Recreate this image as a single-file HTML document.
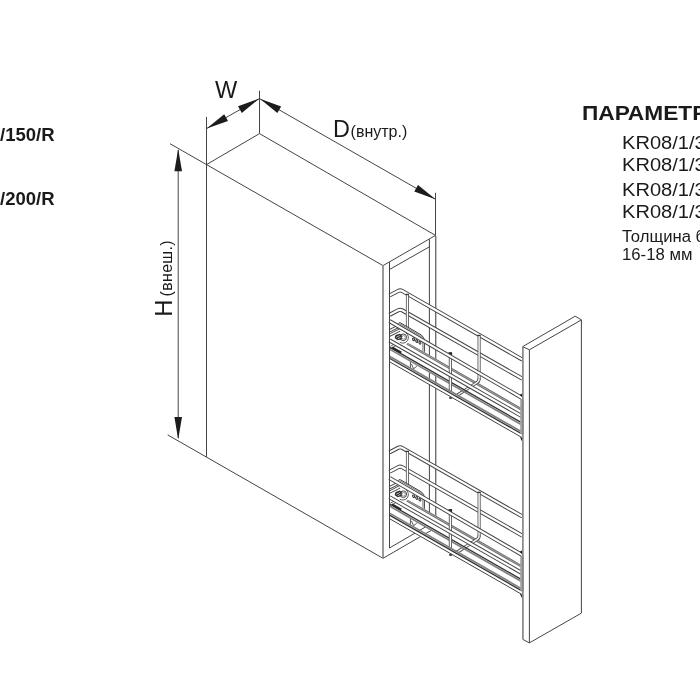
<!DOCTYPE html>
<html><head><meta charset="utf-8"><title>KR08</title>
<style>
html,body{margin:0;padding:0;background:#fff;}
body{width:700px;height:700px;overflow:hidden;position:relative;font-family:"Liberation Sans",sans-serif;color:#1a1a1a;}
svg{position:absolute;left:0;top:0;}
.t{position:absolute;white-space:nowrap;line-height:1;transform-origin:0 0;}
#wrap{position:absolute;left:0;top:0;width:700px;height:700px;will-change:transform;}
</style></head><body><div id="wrap">
<svg width="700" height="700" viewBox="0 0 700 700">
<path d="M206.5 164.6 L259.5 133.6 L435.5 235.4 L383 265.6 Z" stroke="#444" stroke-width="1" fill="none" />
<line x1="206.50" y1="116.90" x2="206.50" y2="457.10" stroke="#444" stroke-width="1" />
<line x1="259.50" y1="90.70" x2="259.50" y2="133.60" stroke="#444" stroke-width="1" />
<line x1="435.50" y1="192.80" x2="435.50" y2="235.40" stroke="#444" stroke-width="1" />
<line x1="206.50" y1="457.10" x2="383.00" y2="558.30" stroke="#444" stroke-width="1" />
<line x1="383.00" y1="265.60" x2="383.00" y2="558.30" stroke="#9a9a9a" stroke-width="2" />
<line x1="389.50" y1="269.50" x2="429.40" y2="246.80" stroke="#444" stroke-width="1" />
<line x1="429.40" y1="239.30" x2="429.40" y2="524.70" stroke="#444" stroke-width="1" />
<line x1="435.50" y1="235.40" x2="435.50" y2="528.10" stroke="#666" stroke-width="1" />
<line x1="436.40" y1="235.90" x2="436.40" y2="528.10" stroke="#bdbdbd" stroke-width="1" />
<line x1="383.00" y1="558.30" x2="435.50" y2="527.90" stroke="#444" stroke-width="1" />
<line x1="389.50" y1="548.00" x2="429.40" y2="524.70" stroke="#444" stroke-width="1" />
<line x1="178.20" y1="150.00" x2="178.20" y2="438.00" stroke="#444" stroke-width="1" />
<polygon points="178.20,149.00 182.00,171.30 174.40,171.30" fill="#1c1c1c"/>
<polygon points="178.20,439.40 174.40,417.10 182.00,417.10" fill="#1c1c1c"/>
<line x1="170.00" y1="143.70" x2="206.50" y2="164.60" stroke="#444" stroke-width="1" />
<line x1="167.70" y1="434.90" x2="206.50" y2="457.10" stroke="#444" stroke-width="1" />
<line x1="206.50" y1="128.60" x2="259.50" y2="98.60" stroke="#444" stroke-width="1" />
<polygon points="206.70,128.60 224.23,114.31 227.98,120.92" fill="#1c1c1c"/>
<polygon points="259.30,98.60 241.77,112.89 238.02,106.28" fill="#1c1c1c"/>
<line x1="259.50" y1="98.60" x2="435.50" y2="199.30" stroke="#444" stroke-width="1" />
<polygon points="259.90,98.70 281.14,106.48 277.37,113.07" fill="#1c1c1c"/>
<polygon points="435.50,199.30 414.26,191.52 418.03,184.93" fill="#1c1c1c"/>
<g transform="translate(0,0)">
<path d="M389.50 295.50 L398.08 290.95 Q400.20 289.83 402.28 291.02 L522.50 359.66" stroke="#444" stroke-width="4.1" fill="none" stroke-linecap="butt" stroke-linejoin="round"/>
<path d="M389.50 295.50 L398.08 290.95 Q400.20 289.83 402.28 291.02 L522.50 359.66" stroke="#fff" stroke-width="2.2" fill="none" stroke-linecap="butt" stroke-linejoin="round"/>
<path d="M389.50 314.87 L398.08 310.32 Q400.20 309.20 402.28 310.39 L522.50 378.79" stroke="#444" stroke-width="4.1" fill="none" stroke-linecap="butt" stroke-linejoin="round"/>
<path d="M389.50 314.87 L398.08 310.32 Q400.20 309.20 402.28 310.39 L522.50 378.79" stroke="#fff" stroke-width="2.2" fill="none" stroke-linecap="butt" stroke-linejoin="round"/>
<path d="M407.4 294.74 L407.4 331.49" stroke="#555" stroke-width="3.0" fill="none" stroke-linecap="butt" stroke-linejoin="round"/>
<path d="M407.4 294.74 L407.4 331.49" stroke="#fff" stroke-width="1.3" fill="none" stroke-linecap="butt" stroke-linejoin="round"/>
<rect x="405.79999999999995" y="293.84" width="3.2" height="1.3" fill="#333"/>
<path d="M479.1 335.68 L479.1 379.08 Q479.1 381.28 477.10 382.48 L456.00 395.98" stroke="#555" stroke-width="3.1" fill="none" stroke-linecap="butt" stroke-linejoin="round"/>
<path d="M479.1 335.68 L479.1 379.08 Q479.1 381.28 477.10 382.48 L456.00 395.98" stroke="#fff" stroke-width="1.4" fill="none" stroke-linecap="butt" stroke-linejoin="round"/>
<rect x="477.5" y="334.78" width="3.2" height="1.3" fill="#333"/>
<polygon points="407.0,342.17 521.0,407.84 521.0,424.94 390.0,350.01 390.0,338.66" fill="#fff"/>
<line x1="407.00" y1="343.47" x2="521.00" y2="409.14" stroke="#6a6a6a" stroke-width="2.5" />
<line x1="407.00" y1="343.47" x2="521.00" y2="409.14" stroke="#bdbdbd" stroke-width="0.7" />
<path d="M479.1 378.28 L479.1 379.08 Q479.1 381.28 477.10 382.48 L456.00 395.98" stroke="#555" stroke-width="3.1" fill="none" stroke-linecap="butt" stroke-linejoin="round"/>
<path d="M479.1 378.28 L479.1 379.08 Q479.1 381.28 477.10 382.48 L456.00 395.98" stroke="#fff" stroke-width="1.4" fill="none" stroke-linecap="butt" stroke-linejoin="round"/>
<path d="M398.7 323.85 Q398.9 321.66 400.9 323.12 L421.4 335.01 Q424.4 337.75 424.4 340.75 L424.4 351.6 L398.7 338 Z" fill="#fff" stroke="none"/>
<path d="M398.6 324.19 Q398.8 321.60 400.9 323.12 L421.4 335.01 Q424.4 337.55 424.4 340.75 L424.4 351.8" stroke="#3c3c3c" stroke-width="1.0" fill="none" />
<path d="M400.0 325.00 Q400.2 323.82 401.6 324.83 L420.6 335.85 Q422.9 337.88 422.9 340.28 L422.9 350.8" stroke="#555" stroke-width="0.8" fill="none" />
<path d="M389.5 330.8 L398.8 326.2" stroke="#444" stroke-width="3.3" fill="none" stroke-linecap="butt" stroke-linejoin="round"/>
<path d="M389.5 330.8 L398.8 326.2" stroke="#fff" stroke-width="1.5" fill="none" stroke-linecap="butt" stroke-linejoin="round"/>
<path d="M389.5 335.2 L399.6 330.1" stroke="#444" stroke-width="3.3" fill="none" stroke-linecap="butt" stroke-linejoin="round"/>
<path d="M389.5 335.2 L399.6 330.1" stroke="#fff" stroke-width="1.5" fill="none" stroke-linecap="butt" stroke-linejoin="round"/>
<path d="M405.90 332.90 A5.0 5.0 0 0 1 399.70 342.20" fill="none" stroke="#4a4a4a" stroke-width="0.9"/>
<circle cx="403.3" cy="337.3" r="3.3" fill="#fff" stroke="#444" stroke-width="1.0"/>
<polygon points="395.6,335.0 399.9,333.7 402.3,336.1 401.7,339.2 397.6,340.3 394.6,338.0" fill="#2b2b2b"/>
<path d="M396.2 337.4 L399.8 335.5 M397.6 338.9 L400.6 337.3" stroke="#e8e8e8" stroke-width="0.8" fill="none" />
<circle cx="403.6" cy="337.40000000000003" r="1.8" fill="#fff" stroke="#555" stroke-width="0.6"/>
<ellipse cx="413.6" cy="339.4" rx="0.95" ry="1.45" fill="#d0d0d0" stroke="#2e2e2e" stroke-width="0.95" transform="rotate(-22 413.6 339.4)"/>
<ellipse cx="416.7" cy="341.1" rx="0.95" ry="1.45" fill="#d0d0d0" stroke="#2e2e2e" stroke-width="0.95" transform="rotate(-22 416.7 341.1)"/>
<ellipse cx="419.9" cy="342.8" rx="0.95" ry="1.45" fill="#d0d0d0" stroke="#2e2e2e" stroke-width="0.95" transform="rotate(-22 419.9 342.8)"/>
<path d="M390.4 346.2 L394.6 343.9 M390.4 348.6 L396.0 345.6" stroke="#555" stroke-width="0.9" fill="none" />
<line x1="389.50" y1="347.12" x2="520.70" y2="422.17" stroke="#333" stroke-width="1.3" />
<line x1="389.50" y1="349.12" x2="520.70" y2="424.17" stroke="#808080" stroke-width="1.7" />
<path d="M450.4 352.83 L450.4 392.06" stroke="#555" stroke-width="3.2" fill="none" stroke-linecap="butt" stroke-linejoin="round"/>
<path d="M450.4 352.83 L450.4 392.06" stroke="#fff" stroke-width="1.4" fill="none" stroke-linecap="butt" stroke-linejoin="round"/>
<rect x="448.5" y="352.23" width="3.6" height="2.6" fill="#222"/>
<path d="M389.5 321.11 L522.5 398.25" stroke="#444" stroke-width="4.1" fill="none" stroke-linecap="butt" stroke-linejoin="round"/>
<path d="M389.5 321.11 L522.5 398.25" stroke="#fff" stroke-width="2.2" fill="none" stroke-linecap="butt" stroke-linejoin="round"/>
<path d="M389.5 340.37 L522.5 416.45" stroke="#444" stroke-width="4.1" fill="none" stroke-linecap="butt" stroke-linejoin="round"/>
<path d="M389.5 340.37 L522.5 416.45" stroke="#fff" stroke-width="2.2" fill="none" stroke-linecap="butt" stroke-linejoin="round"/>
<polygon points="519.7,394.85 522.2,393.45 522.2,397.25" fill="#222"/>
<polygon points="389.5,357.22 522.0,433.01 522.0,437.56 389.5,361.77" fill="#fff"/>
<line x1="389.50" y1="356.22" x2="521.50" y2="431.73" stroke="#808080" stroke-width="1.7" />
<line x1="389.50" y1="358.22" x2="522.00" y2="434.01" stroke="#333" stroke-width="1.3" />
<line x1="389.50" y1="361.77" x2="522.00" y2="437.56" stroke="#444" stroke-width="1" />
<polygon points="519.9,436.95 522.3,438.15 522.3,441.25 521.5,440.45" fill="#222"/>
<ellipse cx="450.6" cy="398.02" rx="1.7" ry="1.1" fill="#444"/>
<path d="M410.4 362.08 L410.4 367.58 M411.4 363.95 L413.59999999999997 368.81 L416.79999999999995 366.24" stroke="#444" stroke-width="0.9" fill="none" />
<polygon points="392.6,346.6 401.8,351.8 400.6,353.4 391.6,348.4" fill="#262626"/>
</g>
<g transform="translate(0,156.9)">
<path d="M389.50 295.50 L398.08 290.95 Q400.20 289.83 402.28 291.02 L522.50 359.66" stroke="#444" stroke-width="4.1" fill="none" stroke-linecap="butt" stroke-linejoin="round"/>
<path d="M389.50 295.50 L398.08 290.95 Q400.20 289.83 402.28 291.02 L522.50 359.66" stroke="#fff" stroke-width="2.2" fill="none" stroke-linecap="butt" stroke-linejoin="round"/>
<path d="M389.50 314.87 L398.08 310.32 Q400.20 309.20 402.28 310.39 L522.50 378.79" stroke="#444" stroke-width="4.1" fill="none" stroke-linecap="butt" stroke-linejoin="round"/>
<path d="M389.50 314.87 L398.08 310.32 Q400.20 309.20 402.28 310.39 L522.50 378.79" stroke="#fff" stroke-width="2.2" fill="none" stroke-linecap="butt" stroke-linejoin="round"/>
<path d="M407.4 294.74 L407.4 331.49" stroke="#555" stroke-width="3.0" fill="none" stroke-linecap="butt" stroke-linejoin="round"/>
<path d="M407.4 294.74 L407.4 331.49" stroke="#fff" stroke-width="1.3" fill="none" stroke-linecap="butt" stroke-linejoin="round"/>
<rect x="405.79999999999995" y="293.84" width="3.2" height="1.3" fill="#333"/>
<path d="M479.1 335.68 L479.1 379.08 Q479.1 381.28 477.10 382.48 L456.00 395.98" stroke="#555" stroke-width="3.1" fill="none" stroke-linecap="butt" stroke-linejoin="round"/>
<path d="M479.1 335.68 L479.1 379.08 Q479.1 381.28 477.10 382.48 L456.00 395.98" stroke="#fff" stroke-width="1.4" fill="none" stroke-linecap="butt" stroke-linejoin="round"/>
<rect x="477.5" y="334.78" width="3.2" height="1.3" fill="#333"/>
<polygon points="407.0,342.17 521.0,407.84 521.0,424.94 390.0,350.01 390.0,338.66" fill="#fff"/>
<line x1="407.00" y1="343.47" x2="521.00" y2="409.14" stroke="#6a6a6a" stroke-width="2.5" />
<line x1="407.00" y1="343.47" x2="521.00" y2="409.14" stroke="#bdbdbd" stroke-width="0.7" />
<path d="M479.1 378.28 L479.1 379.08 Q479.1 381.28 477.10 382.48 L456.00 395.98" stroke="#555" stroke-width="3.1" fill="none" stroke-linecap="butt" stroke-linejoin="round"/>
<path d="M479.1 378.28 L479.1 379.08 Q479.1 381.28 477.10 382.48 L456.00 395.98" stroke="#fff" stroke-width="1.4" fill="none" stroke-linecap="butt" stroke-linejoin="round"/>
<path d="M398.7 323.85 Q398.9 321.66 400.9 323.12 L421.4 335.01 Q424.4 337.75 424.4 340.75 L424.4 351.6 L398.7 338 Z" fill="#fff" stroke="none"/>
<path d="M398.6 324.19 Q398.8 321.60 400.9 323.12 L421.4 335.01 Q424.4 337.55 424.4 340.75 L424.4 351.8" stroke="#3c3c3c" stroke-width="1.0" fill="none" />
<path d="M400.0 325.00 Q400.2 323.82 401.6 324.83 L420.6 335.85 Q422.9 337.88 422.9 340.28 L422.9 350.8" stroke="#555" stroke-width="0.8" fill="none" />
<path d="M389.5 330.8 L398.8 326.2" stroke="#444" stroke-width="3.3" fill="none" stroke-linecap="butt" stroke-linejoin="round"/>
<path d="M389.5 330.8 L398.8 326.2" stroke="#fff" stroke-width="1.5" fill="none" stroke-linecap="butt" stroke-linejoin="round"/>
<path d="M389.5 335.2 L399.6 330.1" stroke="#444" stroke-width="3.3" fill="none" stroke-linecap="butt" stroke-linejoin="round"/>
<path d="M389.5 335.2 L399.6 330.1" stroke="#fff" stroke-width="1.5" fill="none" stroke-linecap="butt" stroke-linejoin="round"/>
<path d="M405.90 332.90 A5.0 5.0 0 0 1 399.70 342.20" fill="none" stroke="#4a4a4a" stroke-width="0.9"/>
<circle cx="403.3" cy="337.3" r="3.3" fill="#fff" stroke="#444" stroke-width="1.0"/>
<polygon points="395.6,335.0 399.9,333.7 402.3,336.1 401.7,339.2 397.6,340.3 394.6,338.0" fill="#2b2b2b"/>
<path d="M396.2 337.4 L399.8 335.5 M397.6 338.9 L400.6 337.3" stroke="#e8e8e8" stroke-width="0.8" fill="none" />
<circle cx="403.6" cy="337.40000000000003" r="1.8" fill="#fff" stroke="#555" stroke-width="0.6"/>
<ellipse cx="413.6" cy="339.4" rx="0.95" ry="1.45" fill="#d0d0d0" stroke="#2e2e2e" stroke-width="0.95" transform="rotate(-22 413.6 339.4)"/>
<ellipse cx="416.7" cy="341.1" rx="0.95" ry="1.45" fill="#d0d0d0" stroke="#2e2e2e" stroke-width="0.95" transform="rotate(-22 416.7 341.1)"/>
<ellipse cx="419.9" cy="342.8" rx="0.95" ry="1.45" fill="#d0d0d0" stroke="#2e2e2e" stroke-width="0.95" transform="rotate(-22 419.9 342.8)"/>
<path d="M390.4 346.2 L394.6 343.9 M390.4 348.6 L396.0 345.6" stroke="#555" stroke-width="0.9" fill="none" />
<line x1="389.50" y1="347.12" x2="520.70" y2="422.17" stroke="#333" stroke-width="1.3" />
<line x1="389.50" y1="349.12" x2="520.70" y2="424.17" stroke="#808080" stroke-width="1.7" />
<path d="M450.4 352.83 L450.4 392.06" stroke="#555" stroke-width="3.2" fill="none" stroke-linecap="butt" stroke-linejoin="round"/>
<path d="M450.4 352.83 L450.4 392.06" stroke="#fff" stroke-width="1.4" fill="none" stroke-linecap="butt" stroke-linejoin="round"/>
<rect x="448.5" y="352.23" width="3.6" height="2.6" fill="#222"/>
<path d="M389.5 321.11 L522.5 398.25" stroke="#444" stroke-width="4.1" fill="none" stroke-linecap="butt" stroke-linejoin="round"/>
<path d="M389.5 321.11 L522.5 398.25" stroke="#fff" stroke-width="2.2" fill="none" stroke-linecap="butt" stroke-linejoin="round"/>
<path d="M389.5 340.37 L522.5 416.45" stroke="#444" stroke-width="4.1" fill="none" stroke-linecap="butt" stroke-linejoin="round"/>
<path d="M389.5 340.37 L522.5 416.45" stroke="#fff" stroke-width="2.2" fill="none" stroke-linecap="butt" stroke-linejoin="round"/>
<polygon points="519.7,394.85 522.2,393.45 522.2,397.25" fill="#222"/>
<polygon points="389.5,357.22 522.0,433.01 522.0,437.56 389.5,361.77" fill="#fff"/>
<line x1="389.50" y1="356.22" x2="521.50" y2="431.73" stroke="#808080" stroke-width="1.7" />
<line x1="389.50" y1="358.22" x2="522.00" y2="434.01" stroke="#333" stroke-width="1.3" />
<line x1="389.50" y1="361.77" x2="522.00" y2="437.56" stroke="#444" stroke-width="1" />
<polygon points="519.9,436.95 522.3,438.15 522.3,441.25 521.5,440.45" fill="#222"/>
<ellipse cx="450.6" cy="398.02" rx="1.7" ry="1.1" fill="#444"/>
<path d="M410.4 362.08 L410.4 367.58 M411.4 363.95 L413.59999999999997 368.81 L416.79999999999995 366.24" stroke="#444" stroke-width="0.9" fill="none" />
<polygon points="392.6,346.6 401.8,351.8 400.6,353.4 391.6,348.4" fill="#262626"/>
</g>
<polygon points="522.7,346.6 575.2,316.2 581.4,319.9 581.4,613.1 529.4,642.9 522.7,639.3" fill="#fff"/>
<path d="M522.7 346.6 L575.2 316.2 L581.4 319.9 L529.4 349.8 Z" stroke="#444" stroke-width="1" fill="none" />
<line x1="581.40" y1="319.90" x2="581.40" y2="613.10" stroke="#444" stroke-width="1" />
<line x1="529.40" y1="349.80" x2="529.40" y2="642.90" stroke="#444" stroke-width="1" />
<line x1="529.40" y1="642.90" x2="581.40" y2="613.10" stroke="#444" stroke-width="1" />
<line x1="522.70" y1="639.30" x2="529.40" y2="642.90" stroke="#444" stroke-width="1" />
<line x1="522.90" y1="346.60" x2="522.90" y2="639.30" stroke="#808080" stroke-width="1.6" />
<line x1="389.50" y1="262.20" x2="389.50" y2="548.00" stroke="#444" stroke-width="1" />
<rect x="520.2" y="399.6" width="3.0" height="34.39999999999998" fill="#a2a2a2"/>
<rect x="522.3" y="399.6" width="1.0" height="34.39999999999998" fill="#777"/>
<rect x="520.2" y="556.5" width="3.0" height="34.39999999999998" fill="#a2a2a2"/>
<rect x="522.3" y="556.5" width="1.0" height="34.39999999999998" fill="#777"/>
<g font-family="Liberation Sans, sans-serif" fill="#1a1a1a">
<text x="215.1" y="98.3" font-size="23.6">W</text>
<text x="333.0" y="136.7" font-size="23.4">D</text>
<text x="350.6" y="136.7" font-size="16">(внутр.)</text>
<g transform="translate(172.2,316.8) rotate(-90)">
<text x="0" y="0" font-size="23.8">H</text>
<text x="20.4" y="0" font-size="16" letter-spacing="0.3">(внеш.)</text>
</g>
</g>
</svg>
<div class="t" style="left:0.3px;top:127.0px;font-size:17.6px;font-weight:bold;transform:scaleX(1.053);">/150/R</div>
<div class="t" style="left:0.3px;top:190.7px;font-size:17.6px;font-weight:bold;transform:scaleX(1.053);">/200/R</div>
<div class="t" style="left:581.6px;top:102.5px;font-size:20px;font-weight:bold;transform:scaleX(1.135);">ПАРАМЕТРЫ</div>
<div class="t" style="left:621.8px;top:134.3px;font-size:18px;transform:scaleX(1.115);">KR08/1/3/150/R</div>
<div class="t" style="left:621.8px;top:156.1px;font-size:18px;transform:scaleX(1.115);">KR08/1/3/150/R</div>
<div class="t" style="left:621.8px;top:181.1px;font-size:18px;transform:scaleX(1.115);">KR08/1/3/200/R</div>
<div class="t" style="left:621.8px;top:202.6px;font-size:18px;transform:scaleX(1.115);">KR08/1/3/200/R</div>
<div class="t" style="left:622.0px;top:229.0px;font-size:16px;transform:scaleX(1.04);">Толщина боковины</div>
<div class="t" style="left:622.0px;top:247.2px;font-size:16px;transform:scaleX(1.045);">16-18 мм</div>
</div></body></html>
